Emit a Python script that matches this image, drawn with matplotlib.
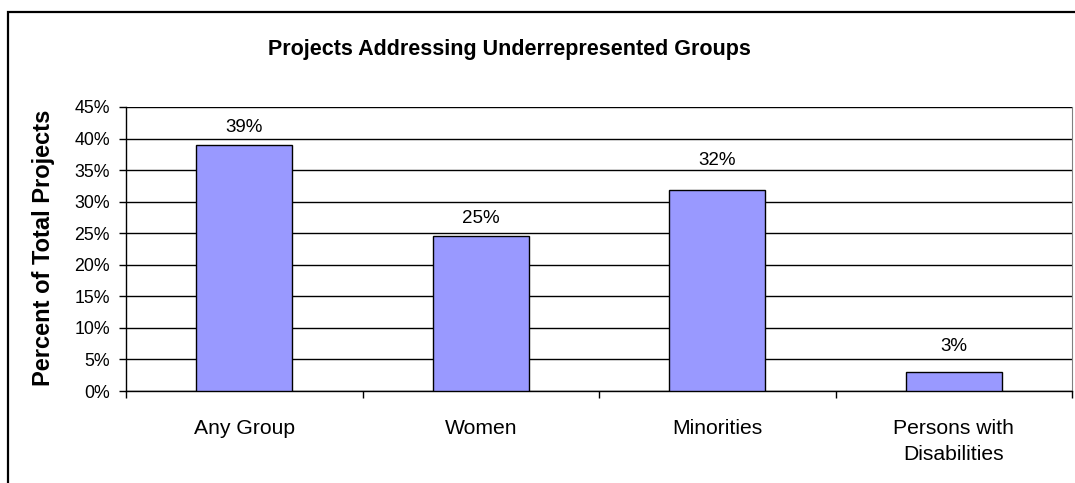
import matplotlib
matplotlib.use("Agg")
import matplotlib.pyplot as plt
from matplotlib.patches import Rectangle
from matplotlib.ticker import FixedLocator, PercentFormatter

categories = ["Any Group", "Women", "Minorities", "Persons with\nDisabilities"]
values = [39.0, 24.5, 31.9, 3.05]
value_labels = ["39%", "25%", "32%", "3%"]
yticks = [0, 5, 10, 15, 20, 25, 30, 35, 40, 45]

# label offsets above bar tops (points), as placed in the original chart
label_offsets = [6.5, 6.5, 15.0, 12.3]

plt.rcParams['font.family'] = ['Liberation Sans', 'DejaVu Sans']

W, H = 1075, 483
fig = plt.figure(figsize=(W / 100, H / 100), dpi=100)
fig.patch.set_facecolor("white")

# outer chart border
fig.add_artist(Rectangle((8 / W, -0.05), 1.2, 1 - 12 / H + 0.05, transform=fig.transFigure,
                         fill=False, edgecolor="black", linewidth=1.6))

left, right, top, bottom = 126, 1072, 107, 391
ax = fig.add_axes([left / W, 1 - bottom / H, (right - left) / W, (bottom - top) / H])

x = list(range(len(categories)))
ax.bar(x, values, width=0.405, color="#9999FF", edgecolor="black", linewidth=1.0, zorder=3)
for xi, v, lab, off in zip(x, values, value_labels, label_offsets):
    ax.annotate(lab, (xi, v), xytext=(0, off), textcoords="offset points",
                ha="center", va="bottom", fontsize=13.5, color="black")

ax.set_xlim(-0.5, len(categories) - 0.5)
ax.set_ylim(0, 45)
ax.set_yticks(yticks)
ax.yaxis.set_major_formatter(PercentFormatter(decimals=0))
ax.yaxis.grid(True, color="black", linewidth=1.0, zorder=0)
ax.set_axisbelow(True)

ax.set_xticks(x)
ax.set_xticklabels(categories, fontsize=15.2, linespacing=1.48)
ax.xaxis.set_minor_locator(FixedLocator([i - 0.5 for i in range(len(categories) + 1)]))
ax.tick_params(axis="x", which="major", length=0, pad=20)
ax.tick_params(axis="x", which="minor", length=5, width=1.0, direction="out", color="black")
ax.tick_params(axis="y", length=5, width=1.0, direction="out", labelsize=12.8, pad=6.5)

ax.spines["top"].set_visible(False)
ax.spines["right"].set_color("#808080")
ax.spines["left"].set_color("black")
ax.spines["bottom"].set_color("black")
ax.spines["left"].set_linewidth(1.0)
ax.spines["bottom"].set_linewidth(1.0)

fig.text(44 / W, 1 - 248 / H, "Percent of Total Projects", rotation=90, ha="center", va="center",
         fontsize=17, fontweight="bold")
fig.text(509 / W, 1 - 49 / H, "Projects Addressing Underrepresented Groups", ha="center", va="center",
         fontsize=15.5, fontweight="bold")

fig.savefig("out.png", dpi=100, facecolor="white")
